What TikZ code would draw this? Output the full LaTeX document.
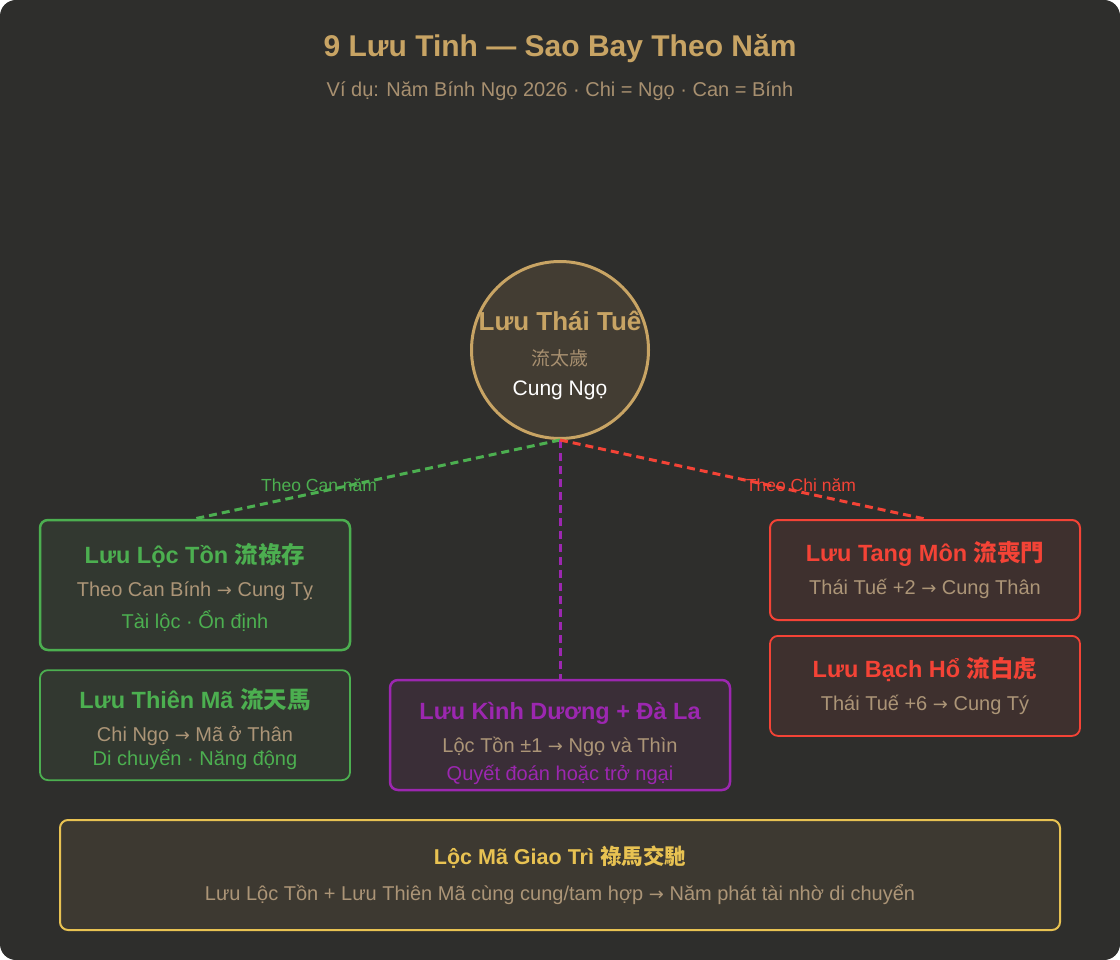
\documentclass[tikz,border=0pt]{standalone}
\usepackage{fontspec}
\setmainfont{Liberation Sans}
\newfontfamily\cjk{Noto Sans CJK TC}
\newfontfamily\symb{DejaVu Sans}
\usepackage{xcolor}
\usetikzlibrary{positioning}

\definecolor{bgdark}{HTML}{2E2E2C}
\definecolor{gold}{HTML}{C8A464}
\definecolor{subtan}{HTML}{A89070}
\definecolor{tan}{HTML}{AC9577}
\definecolor{grn}{HTML}{4CAF50}
\definecolor{purp}{HTML}{9C27B0}
\definecolor{rd}{HTML}{F44336}
\definecolor{yel}{HTML}{E8C252}
\definecolor{circfill}{HTML}{433D33}
\definecolor{grnfill}{HTML}{323830}
\definecolor{purpfill}{HTML}{3A2E37}
\definecolor{rdfill}{HTML}{3E302E}
\definecolor{yelfill}{HTML}{3D3931}

\newcommand{\arr}{{\symb\fontsize{18}{20}\selectfont →}}
\newcommand{\lift}[1]{\rule{0pt}{#1}}

\begin{document}
\begin{tikzpicture}[x=1pt,y=-1pt,thick]
	\tikzstyle{card}=[draw, rectangle, rounded corners=8pt, line width=2.5pt, align=center, inner sep=0pt, font=\fontsize{20}{33}\selectfont]
	\tikzstyle{link}=[line width=3pt, dash pattern=on 8pt off 5pt]
	\tikzstyle{tag}=[font=\fontsize{17.5}{20}\selectfont]

	\fill[bgdark, rounded corners=16pt] (0,0) rectangle (1120,960);
	\useasboundingbox (0,0) rectangle (1120,960);

	\node[text=gold, font=\bfseries\fontsize{30}{34}\selectfont] (title) at (560,49) {9 Lưu Tinh — Sao Bay Theo Năm};
	\node[text=subtan, font=\fontsize{20}{24}\selectfont] (sub) at (560,91) {Ví dụ: Năm Bính Ngọ 2026 · Chi = Ngọ · Can = Bính};

	% center
	\node[circle, draw=gold, fill=circfill, line width=3pt, minimum size=177pt, inner sep=0pt] (tt) at (560,350) {};
	\node[align=center, inner sep=0pt, font=\fontsize{21}{30}\selectfont] (ttname) at ([yshift=-5.5pt]tt.center) {%
		{\bfseries\fontsize{26}{30}\selectfont\color{gold}Lưu Thái Tuế}\\[5pt]
		{\cjk\fontsize{19}{30}\selectfont\color{subtan}流太歲}\\
		{\color{white}Cung Ngọ}};

	% left: Can
	\node[card, draw=grn, fill=grnfill, minimum width=310pt, minimum height=130pt] (lt) at (195,585) {%
		\lift{25pt}{\bfseries\fontsize{23.5}{33}\selectfont\color{grn}Lưu Lộc Tồn {\cjk 流祿存}}\\
		{\color{tan}Theo Can Bính \arr{} Cung Tỵ}\\[-1pt]
		{\color{grn}Tài lộc · Ổn định}};
	\node[card, draw=grn, fill=grnfill, line width=1.8pt, minimum width=310pt, minimum height=110pt, below=18pt of lt] (tm2) {%
		\lift{28pt}{\bfseries\fontsize{23.5}{33}\selectfont\color{grn}Lưu Thiên Mã {\cjk 流天馬}}\\
		{\color{tan}Chi Ngọ \arr{} Mã ở Thân}\\[-9pt]
		{\color{grn}Di chuyển · Năng động}};

	% middle
	\node[card, draw=purp, fill=purpfill, minimum width=340pt, minimum height=110pt] (kd) at (560,735) {%
		\lift{35pt}{\bfseries\fontsize{23.5}{33}\selectfont\color{purp}Lưu Kình Dương + Đà La}\\
		{\color{tan}Lộc Tồn ±1 \arr{} Ngọ và Thìn}\\[-5pt]
		{\color{purp}Quyết đoán hoặc trở ngại}};

	% right: Chi
	\node[card, draw=rd, fill=rdfill, line width=2pt, minimum width=310pt, minimum height=100pt] (tg) at (925,570) {%
		{\bfseries\fontsize{23.5}{40}\selectfont\color{rd}Lưu Tang Môn {\cjk 流喪門}}\\
		{\color{tan}Thái Tuế +2 \arr{} Cung Thân}};
	\node[card, draw=rd, fill=rdfill, line width=1.8pt, minimum width=310pt, minimum height=100pt, below=14pt of tg] (bh) {%
		{\bfseries\fontsize{23.5}{40}\selectfont\color{rd}Lưu Bạch Hổ {\cjk 流白虎}}\\
		{\color{tan}Thái Tuế +6 \arr{} Cung Tý}};

	% bottom
	\node[card, draw=yel, fill=yelfill, line width=2pt, minimum width=1000pt, minimum height=110pt, font=\fontsize{20}{36}\selectfont] (lm) at (560,875) {%
		{\bfseries\fontsize{21.5}{36}\selectfont\color{yel}Lộc Mã Giao Trì {\cjk 祿馬交馳}}\\
		{\color{tan}Lưu Lộc Tồn + Lưu Thiên Mã cùng cung/tam hợp \arr{} Năm phát tài nhờ di chuyển}};

	\draw[link, grn] (tt.south) -- node[tag, text=grn, pos=0.66, yshift=7pt] {Theo Can năm} (lt.north);
	\draw[link, purp] (tt.south) -- (kd.north);
	\draw[link, rd] (tt.south) -- node[tag, text=rd, pos=0.66, yshift=7pt] {Theo Chi năm} (tg.north);

\end{tikzpicture}
\end{document}
